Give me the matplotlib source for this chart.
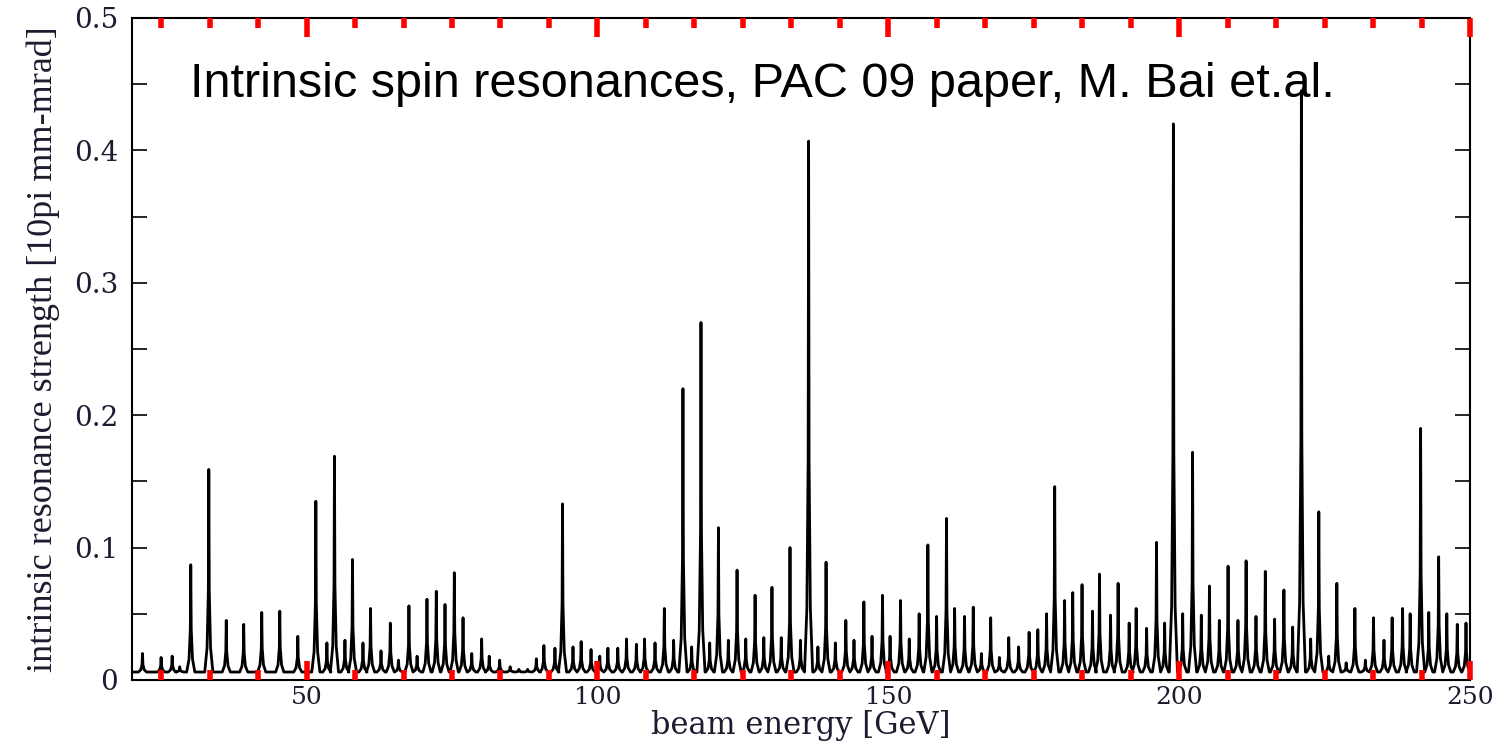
import matplotlib.pyplot as plt
from matplotlib.ticker import FixedLocator

# resonance peaks: beam energy [GeV] and strength
peak_energy = [
    21.8, 25.0, 26.9, 28.2, 30.1, 33.2, 36.2, 39.2, 42.3, 45.4,
    48.5, 51.6, 53.5, 54.8, 56.6, 57.9, 59.7, 61.0, 62.8, 64.4,
    65.8, 67.6, 69.0, 70.7, 72.3, 73.8, 75.4, 76.9, 78.4, 80.1,
    81.4, 83.2, 85.0, 86.5, 88.0, 89.5, 90.8, 92.7, 94.0, 95.8,
    97.2, 98.9, 100.4, 101.8, 103.5, 105.0, 106.7, 108.1, 109.9, 111.5,
    113.1, 114.7, 116.2, 117.8, 119.3, 120.8, 122.5, 124.0, 125.5, 127.1,
    128.6, 130.0, 131.6, 133.1, 134.9, 136.3, 137.9, 139.3, 140.9, 142.7,
    144.1, 145.8, 147.2, 149.0, 150.3, 152.1, 153.6, 155.3, 156.8, 158.3,
    160.0, 161.4, 163.1, 164.6, 166.0, 167.6, 169.1, 170.7, 172.4, 174.2,
    175.7, 177.2, 178.6, 180.3, 181.7, 183.3, 185.1, 186.3, 188.2, 189.5,
    191.4, 192.6, 194.4, 196.1, 197.5, 199.0, 200.6, 202.3, 203.8, 205.2,
    206.9, 208.4, 210.1, 211.5, 213.2, 214.8, 216.4, 218.0, 219.5, 221.0,
    222.6, 224.0, 225.7, 227.1, 228.7, 230.2, 232.0, 233.4, 235.2, 236.6,
    238.4, 239.7, 241.5, 242.9, 244.6, 246.0, 247.8, 249.3,
]
peak_strength = [
    0.020, 0.017, 0.018, 0.010, 0.087, 0.159, 0.045, 0.042, 0.051, 0.052,
    0.033, 0.135, 0.028, 0.169, 0.030, 0.091, 0.028, 0.054, 0.022, 0.043,
    0.015, 0.056, 0.018, 0.061, 0.067, 0.057, 0.081, 0.047, 0.020, 0.031,
    0.018, 0.015, 0.010, 0.008, 0.008, 0.016, 0.026, 0.024, 0.133, 0.025,
    0.029, 0.023, 0.018, 0.024, 0.024, 0.031, 0.027, 0.031, 0.028, 0.054,
    0.030, 0.220, 0.025, 0.270, 0.028, 0.115, 0.030, 0.083, 0.031, 0.064,
    0.032, 0.070, 0.032, 0.100, 0.030, 0.407, 0.025, 0.089, 0.028, 0.045,
    0.030, 0.059, 0.033, 0.064, 0.033, 0.060, 0.031, 0.050, 0.102, 0.048,
    0.122, 0.054, 0.048, 0.055, 0.020, 0.047, 0.017, 0.032, 0.025, 0.036,
    0.038, 0.050, 0.146, 0.060, 0.066, 0.072, 0.052, 0.080, 0.049, 0.073,
    0.043, 0.054, 0.039, 0.104, 0.043, 0.420, 0.050, 0.172, 0.049, 0.071,
    0.045, 0.086, 0.045, 0.090, 0.048, 0.082, 0.046, 0.068, 0.040, 0.445,
    0.031, 0.127, 0.018, 0.073, 0.013, 0.054, 0.015, 0.047, 0.030, 0.047,
    0.054, 0.050, 0.190, 0.051, 0.093, 0.050, 0.042, 0.043,
]

base_level = 0.006

xtick_vals = [50, 100, 150, 200, 250]
ytick_vals = [0, 0.1, 0.2, 0.3, 0.4, 0.5]
ytick_labels = ["0", "0.1", "0.2", "0.3", "0.4", "0.5"]
red_minor = [25 + k * 50 / 6 for k in range(28) if k % 6 != 3]

# needle profile for each resonance
offsets = [-0.7, -0.3, -0.08, 0.0, 0.08, 0.3, 0.7]
fracs = [0.0, 0.12, 0.4, 1.0, 0.4, 0.12, 0.0]
xs, ys = [20.0], [base_level]
for e, h in zip(peak_energy, peak_strength):
    for o, f in zip(offsets, fracs):
        xs.append(e + o)
        ys.append(base_level + f * (h - base_level))
xs.append(250.0)
ys.append(base_level)

fig = plt.figure(figsize=(15.07, 7.46), dpi=100)
ax = fig.add_axes([0.0876, 0.0885, 0.8879, 0.8874])
ax.plot(xs, ys, color="black", lw=2.0)

ax.set_xlim(20, 250)
ax.set_ylim(0, 0.5)
ax.set_axisbelow(False)

lab_color = "#1c1c30"
ax.set_xticks(xtick_vals)
ax.set_xticklabels([str(v) for v in xtick_vals], family="DejaVu Serif",
                   fontsize=18, color=lab_color)
ax.xaxis.set_minor_locator(FixedLocator(red_minor))
ax.tick_params(axis="x", which="major", direction="in", top=True, bottom=True,
               color="red", length=14, width=4, pad=4)
ax.tick_params(axis="x", which="minor", direction="in", top=True, bottom=True,
               color="red", length=7, width=4)

ax.set_yticks(ytick_vals)
ax.set_yticklabels(ytick_labels, family="DejaVu Serif", fontsize=20, color=lab_color)
ax.yaxis.set_minor_locator(FixedLocator([0.05, 0.15, 0.25, 0.35, 0.45]))
ax.tick_params(axis="y", which="both", direction="in", left=True, right=True,
               color="black", length=11, width=1.2, pad=10)

for s in ax.spines.values():
    s.set_linewidth(1.5)

ax.set_xlabel("beam energy [GeV]", family="DejaVu Serif", fontsize=22,
              color=lab_color, labelpad=1)
ax.set_ylabel("intrinsic resonance strength [10pi mm-mrad]", family="Liberation Serif",
              fontsize=26, color=lab_color, labelpad=10)

fig.text(0.126, 0.870, "Intrinsic spin resonances, PAC 09 paper, M. Bai et.al.",
         family="Liberation Sans", fontsize=35, color="black", va="baseline")

fig.savefig("out.png", dpi=100)
